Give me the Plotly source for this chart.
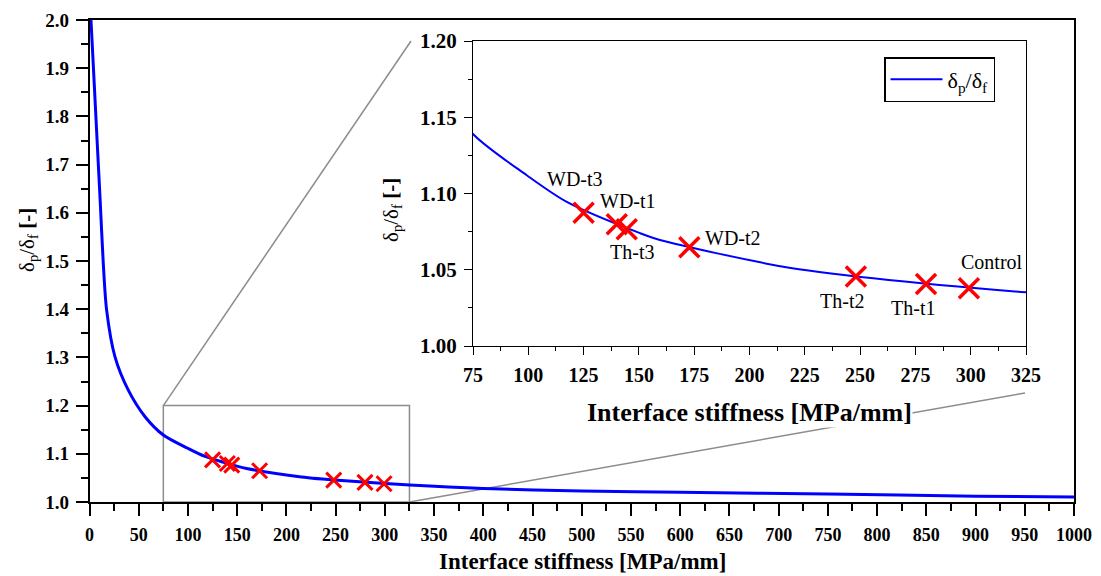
import plotly.graph_objects as go

# ---------------- data ----------------
curve_x = [1.5, 4.7, 7.7, 10.9, 14.0, 17.4, 25.9, 39.4, 56.4, 75.0, 99.3, 117.4,
           150.5, 159.5, 215.3, 256.0, 325.0, 400.0, 500.0, 600.0, 750.0, 900.0, 1000.0]
curve_y = [2.000, 1.872, 1.751, 1.623, 1.495, 1.398, 1.301, 1.232, 1.177, 1.139, 1.112, 1.0945,
           1.074, 1.0695, 1.052, 1.0444, 1.0352, 1.028, 1.023, 1.020, 1.0166, 1.012, 1.0104]

spec_names = ["WD-t3", "WD-t1", "Th-t3", "WD-t2", "Th-t2", "Th-t1", "Control"]
spec_x = [125.0, 140.0, 144.5, 172.8, 248.1, 279.8, 299.2]
spec_y = [1.0874, 1.0798, 1.0765, 1.0647, 1.0455, 1.0407, 1.0378]
label_x = [121.3, 145.1, 147.1, 192.5, 241.8, 273.9, 309.6]
label_y = [1.1095, 1.0951, 1.0616, 1.0708, 1.0295, 1.0249, 1.0551]

main_x_range = [0, 1000]
main_y_range = [1.0, 2.0]
inset_x_range = [75, 325]
inset_y_range = [1.00, 1.20]

x_title = "<b>Interface stiffness [MPa/mm]</b>"
y_title = "δ<sub>p</sub>/δ<sub>f</sub> <b>[-]</b>"
legend_name = "δ<sub>p</sub>/δ<sub>f</sub>"

# ---------------- layout geometry ----------------
W, H = 1101, 576
def px(p):
    return p / W
def py(p):
    return 1 - p / H

main_dx = [px(89.5), px(1074)]
main_dy = [py(502), py(20)]
ins_dx = [px(473), px(1026)]
ins_dy = [py(346), py(41)]

FONT = "Liberation Serif"
BLUE = "#0000ff"
RED = "#ff0000"

fig = go.Figure()

# main plot
fig.add_trace(go.Scatter(x=curve_x, y=curve_y, mode="lines", line=dict(color=BLUE, width=3, shape="spline", smoothing=0.8),
                         xaxis="x", yaxis="y", showlegend=False, hoverinfo="skip"))
fig.add_trace(go.Scatter(x=spec_x, y=spec_y, mode="markers",
                         marker=dict(symbol="x-thin", size=15, line=dict(color=RED, width=3)),
                         xaxis="x", yaxis="y", showlegend=False))
# inset
fig.add_trace(go.Scatter(x=curve_x, y=curve_y, mode="lines", line=dict(color=BLUE, width=2, shape="spline", smoothing=0.8),
                         xaxis="x2", yaxis="y2", name=legend_name, showlegend=True))
fig.add_trace(go.Scatter(x=spec_x, y=spec_y, mode="markers",
                         marker=dict(symbol="x-thin", size=20, line=dict(color=RED, width=3.5)),
                         xaxis="x2", yaxis="y2", showlegend=False))

axis_common = dict(showgrid=False, zeroline=False, showline=True, linecolor="black",
                   mirror=True, ticks="outside", tickcolor="black", automargin=False)

fig.update_layout(
    width=W, height=H,
    margin=dict(l=0, r=0, t=0, b=0, pad=0, autoexpand=False),
    paper_bgcolor="white", plot_bgcolor="rgba(0,0,0,0)",
    font=dict(family=FONT, color="black"),
    xaxis=dict(domain=main_dx, range=main_x_range, anchor="y", dtick=50, tick0=0,
               ticklen=12, tickwidth=1.5, linewidth=1.5,
               minor=dict(dtick=25, ticks="outside", ticklen=7, tickcolor="black", tickwidth=1.5),
               tickfont=dict(size=18, family=FONT, weight="bold"), ticklabelstandoff=4, **axis_common),
    yaxis=dict(domain=main_dy, range=main_y_range, anchor="x", dtick=0.1, tick0=1.0, tickformat=".1f",
               ticklen=12, tickwidth=1.5, linewidth=1.5,
               minor=dict(dtick=0.05, ticks="outside", ticklen=7, tickcolor="black", tickwidth=1.5),
               tickfont=dict(size=19, family=FONT, weight="bold"), ticklabelstandoff=3, **axis_common),
    xaxis2=dict(domain=ins_dx, range=inset_x_range, anchor="y2", dtick=25, tick0=75,
                ticklen=8, tickwidth=1.2, linewidth=1.2,
                minor=dict(dtick=12.5, ticks="outside", ticklen=4, tickcolor="black", tickwidth=1.2),
                tickfont=dict(size=20, family=FONT, weight="bold"), ticklabelstandoff=3, **axis_common),
    yaxis2=dict(domain=ins_dy, range=inset_y_range, anchor="x2", dtick=0.05, tick0=1.0, tickformat=".2f",
                ticklen=8, tickwidth=1.2, linewidth=1.2,
                minor=dict(dtick=0.025, ticks="outside", ticklen=4, tickcolor="black", tickwidth=1.2),
                tickfont=dict(size=21, family=FONT, weight="bold"), ticklabelstandoff=3, **axis_common),
    legend=dict(x=px(884), y=py(57), xanchor="left", yanchor="top",
                bgcolor="white", bordercolor="black", borderwidth=1.5,
                font=dict(size=22, family=FONT), itemwidth=52),
)

# zoom rectangle in the main plot, from the inset ranges
def main_to_paper(xv, yv):
    fx = main_dx[0] + (xv - main_x_range[0]) / (main_x_range[1] - main_x_range[0]) * (main_dx[1] - main_dx[0])
    fy = main_dy[0] + (yv - main_y_range[0]) / (main_y_range[1] - main_y_range[0]) * (main_dy[1] - main_dy[0])
    return fx, fy

GRAY = "#8c8c8c"
tl = main_to_paper(inset_x_range[0], inset_y_range[1])
br = main_to_paper(inset_x_range[1], inset_y_range[0])
fig.add_shape(type="rect", xref="x", yref="y", x0=inset_x_range[0], x1=inset_x_range[1],
              y0=inset_y_range[0], y1=inset_y_range[1], line=dict(color=GRAY, width=1.5), layer="below")
fig.add_shape(type="line", xref="paper", yref="paper", x0=tl[0], y0=tl[1], x1=px(411), y1=py(41),
              line=dict(color=GRAY, width=1.5), layer="below")
fig.add_shape(type="line", xref="paper", yref="paper", x0=br[0], y0=br[1], x1=px(1025), y1=py(393),
              line=dict(color=GRAY, width=1.5), layer="below")

# axis titles
fig.add_annotation(text=x_title, xref="paper", yref="paper", x=px(582), y=py(561), showarrow=False,
                   font=dict(size=23, family=FONT), xanchor="center", yanchor="middle")
fig.add_annotation(text=x_title, xref="paper", yref="paper", x=px(749), y=py(412), showarrow=False,
                   font=dict(size=26, family=FONT), xanchor="center", yanchor="middle",
                   bgcolor="white", borderpad=0)
fig.add_annotation(text=y_title, xref="paper", yref="paper", x=px(28), y=py(240), showarrow=False,
                   font=dict(size=21, family=FONT), textangle=-90, xanchor="center", yanchor="middle")
fig.add_annotation(text=y_title, xref="paper", yref="paper", x=px(392), y=py(210), showarrow=False,
                   font=dict(size=21, family=FONT), textangle=-90, xanchor="center", yanchor="middle")

# specimen labels
for name, lx, ly in zip(spec_names, label_x, label_y):
    fig.add_annotation(text=name, xref="x2", yref="y2", x=lx, y=ly, showarrow=False,
                       font=dict(size=20, family=FONT), xanchor="center", yanchor="middle")

fig.write_html("out.html")
